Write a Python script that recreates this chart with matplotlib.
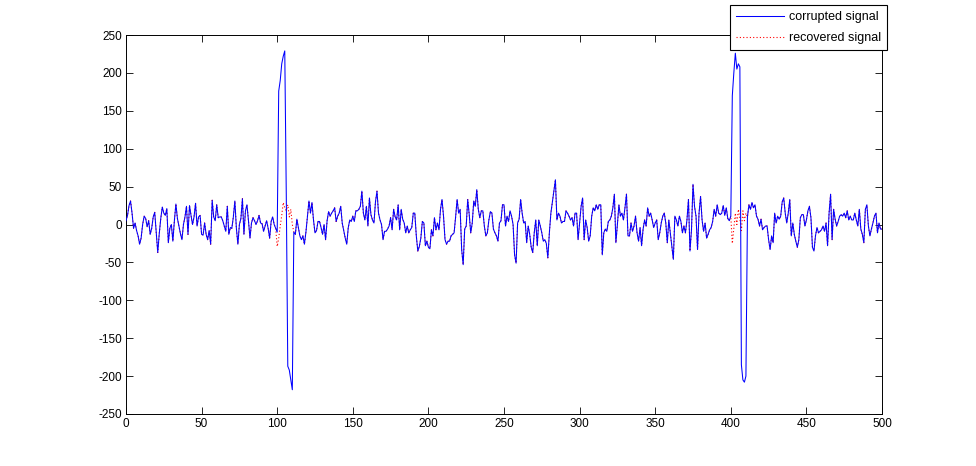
import numpy as np
import matplotlib
matplotlib.use("Agg")
import matplotlib.pyplot as plt

# ---------------- data ----------------
corrupted = [
    5, 12, 25, 31, 15, -5, 2, -8, -15, -26,
    -18, 0, 11, 8, -3, 5, -13, -5, 10, 16,
    -10, -37, -12, 8, 23, 15, 12, 21, -24, -5,
    0, -22, 5, 27, 8, -2, -12, -20, 0, 10,
    24, -13, 25, 12, 0, 10, 28, -2, 10, 12,
    -13, -14, 2, -13, -20, -8, -26, 32, 10, 5,
    26, 9, 10, 10, 5, -2, -9, 24, -13, -4,
    -5, 10, 31, -5, -26, 0, 8, 34, -13, 18,
    26, 5, -18, 2, 9, 5, 0, 5, 12, 2,
    1, -9, -2, 5, -5, -18, 4, 10, 0, -5,
    -10, 176, 190, 212, 222, 229, 40, -187, -192, -205,
    -218, -10, -13, 7, -4, -15, -20, -15, -26, -10,
    10, 31, 15, 29, 6, -11, -8, 4, 4, -4,
    -13, 0, -20, 5, 17, 11, 15, 18, 22, 4,
    11, 15, 24, 2, -8, -18, -26, -4, 6, 4,
    11, 4, 18, 18, 20, 24, 44, 15, 6, 24,
    -2, 35, 13, 6, 2, 30, 44, 15, 6, 0,
    -20, -9, -9, -6, -2, 9, -7, 20, 10, 6,
    26, -7, 20, 7, 2, -11, -2, -11, -7, -4,
    15, 15, -15, -35, -29, -18, 4, 2, -28, -22,
    -30, -32, -7, -15, 9, -7, 2, -7, 20, 33,
    11, -20, -26, -22, -22, -15, -13, -11, 10, 33,
    15, 20, -33, -53, -6, -2, 33, 13, -11, 2,
    31, 24, 46, 20, 9, 18, 18, -2, -15, -11,
    6, 17, 15, -6, -11, -15, -22, 2, 5, 26,
    26, -2, 11, 4, 18, 11, 0, -40, -51, 2,
    7, 33, 15, 2, 4, -24, -2, -13, -30, -37,
    -11, 6, -28, 6, -2, -11, -22, -20, -25, -44,
    -11, 15, 30, 45, 59, 6, 15, 11, 2, 4,
    4, 18, 15, 11, 6, 9, -2, 15, 15, -20,
    2, 24, 35, -20, 6, -4, -22, -15, 11, 22,
    18, 26, 20, 26, 26, -40, -11, -6, -9, 4,
    6, 11, 22, 40, -24, 0, 26, 11, 15, 6,
    22, 40, -15, -15, 2, -9, -2, 11, -11, -22,
    -4, -28, -6, 6, -2, 22, 11, 15, 6, -4,
    2, 6, -20, -11, 2, 11, 15, 2, -24, 6,
    -11, -28, -46, 11, 6, -2, 11, 4, -11, -2,
    -11, 6, 33, -35, -7, 53, 24, 11, -33, 15,
    37, 6, -9, 2, -18, -13, -7, -4, 4, 20,
    11, 26, 15, 13, 15, 25, 12, 22, 8, 5,
    11, 170, 200, 226, 205, 212, 208, -185, -205, -208,
    -200, 10, 26, 20, 29, 22, 26, 11, 7, -2,
    7, -7, -4, -2, -2, -20, -33, -15, -24, 15,
    2, 11, 7, 11, 30, 35, 15, 2, 15, 33,
    -15, 2, -13, -22, -30, -20, 9, 13, 13, -2,
    6, 18, 24, 9, -30, -35, -15, -4, -11, -9,
    -7, -2, -9, 2, -28, 15, 40, -20, 20, 7,
    -2, 4, 11, 13, 11, 15, 9, 18, 6, 11,
    6, 6, 15, 6, -2, 20, -6, -13, -24, 20,
    26, -2, -15, -6, 2, 11, 15, -11, 2, -6,
    -6,
]

# recovered signal equals the corrupted one except around the two pulses
recovered_start1 = 100
recovered_seg1 = [-29, -18, -2, 12, 29, 22, 18, 26, 10, 20, 0]
recovered_start2 = 401
recovered_seg2 = [-25, -5, 15, 0, 20, 8, -8, 18, 5, 15]

legend_labels = ["corrupted signal", "recovered signal"]
x_ticks = list(range(0, 501, 50))
y_ticks = list(range(-250, 251, 50))

# ---------------- build ----------------
corrupted = np.array(corrupted, dtype=float)
recovered = corrupted.copy()
recovered[recovered_start1:recovered_start1 + len(recovered_seg1)] = recovered_seg1
recovered[recovered_start2:recovered_start2 + len(recovered_seg2)] = recovered_seg2
x = np.arange(len(corrupted))

plt.rcParams["font.family"] = ["Liberation Sans", "DejaVu Sans"]
plt.rcParams["axes.unicode_minus"] = False

fig = plt.figure(figsize=(9.76, 4.66), dpi=100)
fig.patch.set_facecolor("white")
ax = fig.add_axes([126 / 976, 1 - 414 / 466, (882 - 126) / 976, (414 - 35) / 466])

l2, = ax.plot(x, recovered, color="#ff0000", lw=0.8, ls=(0, (1, 2)), zorder=2,
              label=legend_labels[1])
l1, = ax.plot(x, corrupted, color="#0000ff", lw=0.75, zorder=3, label=legend_labels[0])

ax.set_xlim(0, 500)
ax.set_ylim(-250, 250)
ax.set_xticks(x_ticks)
ax.set_yticks(y_ticks)
ax.tick_params(direction="in", length=5, width=0.6, labelsize=8.5,
               top=True, right=True, colors="black", pad=3)
for s in ax.spines.values():
    s.set_linewidth(0.7)
    s.set_color("black")

leg = fig.legend(handles=[l1, l2], loc="upper right",
                 bbox_to_anchor=(887 / 976, 1 - 5 / 466),
                 frameon=True, fancybox=False, fontsize=9,
                 handlelength=3.8, handletextpad=0.4, borderpad=0.5,
                 labelspacing=0.7, borderaxespad=0)
leg.get_frame().set_edgecolor("black")
leg.get_frame().set_linewidth(0.8)
leg.get_frame().set_facecolor("white")
leg.get_frame().set_alpha(1)
leg.set_zorder(10)

fig.savefig("out.png", dpi=100, facecolor="white")
